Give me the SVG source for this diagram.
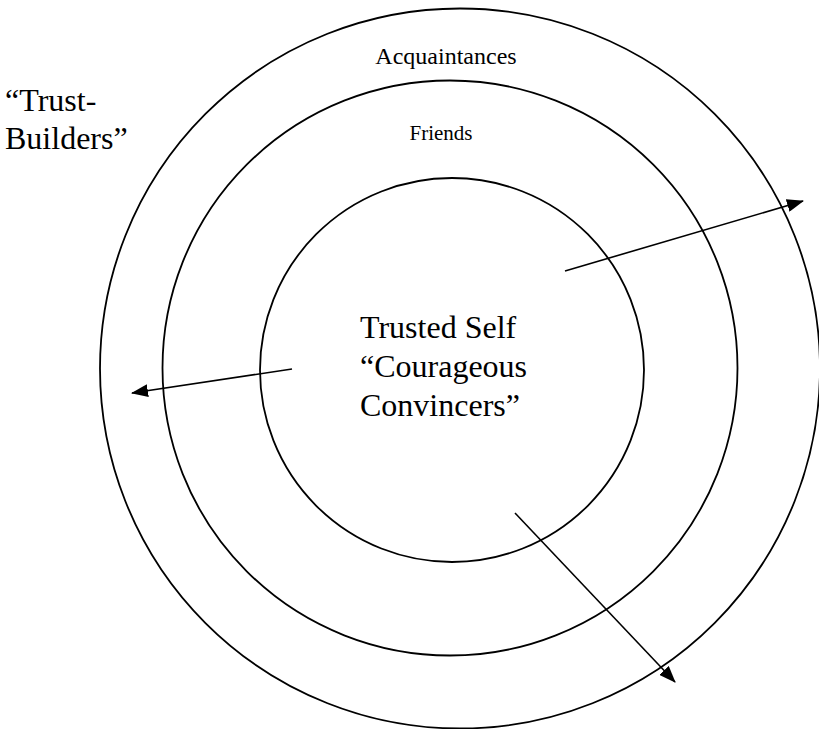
<svg xmlns="http://www.w3.org/2000/svg" width="819" height="729" viewBox="0 0 819 729">
  <style>
    .ring { fill: none; stroke: #000; stroke-width: 1.8; }
    .conn { fill: none; stroke: #000; stroke-width: 1.6; marker-end: url(#arrow); }
    .lbl { font-family: "Liberation Serif", "Times New Roman", serif; fill: #000; }
    .big { font-size: 32px; }
  </style>
  <defs>
    <marker id="arrow" markerUnits="userSpaceOnUse" markerWidth="17" markerHeight="13" refX="16" refY="6.5" orient="auto">
      <path d="M0,0 L17,6.5 L0,13 z" fill="#000"/>
    </marker>
  </defs>
  <rect width="819" height="729" fill="#fff"/>

  <g id="outer-ring">
    <circle class="ring" cx="460" cy="368.5" r="360"/>
    <text class="lbl" x="446" y="64" text-anchor="middle" font-size="24">Acquaintances</text>
  </g>

  <g id="middle-ring">
    <circle class="ring" cx="450" cy="368" r="287.5"/>
    <text class="lbl" x="441" y="140" text-anchor="middle" font-size="21">Friends</text>
  </g>

  <g id="inner-ring">
    <circle class="ring" cx="452" cy="370" r="192"/>
    <text class="lbl big" x="360" y="338">Trusted Self</text>
    <text class="lbl big" x="360" y="377">“Courageous</text>
    <text class="lbl big" x="360" y="416">Convincers”</text>
  </g>

  <g id="trust-builders">
    <text class="lbl big" x="5" y="111">“Trust-</text>
    <text class="lbl big" x="5" y="149">Builders”</text>
  </g>

  <g id="connectors">
    <line class="conn" x1="565" y1="271" x2="803" y2="201"/>
    <line class="conn" x1="292" y1="369" x2="132" y2="393"/>
    <line class="conn" x1="515" y1="513" x2="675" y2="682"/>
  </g>
</svg>
